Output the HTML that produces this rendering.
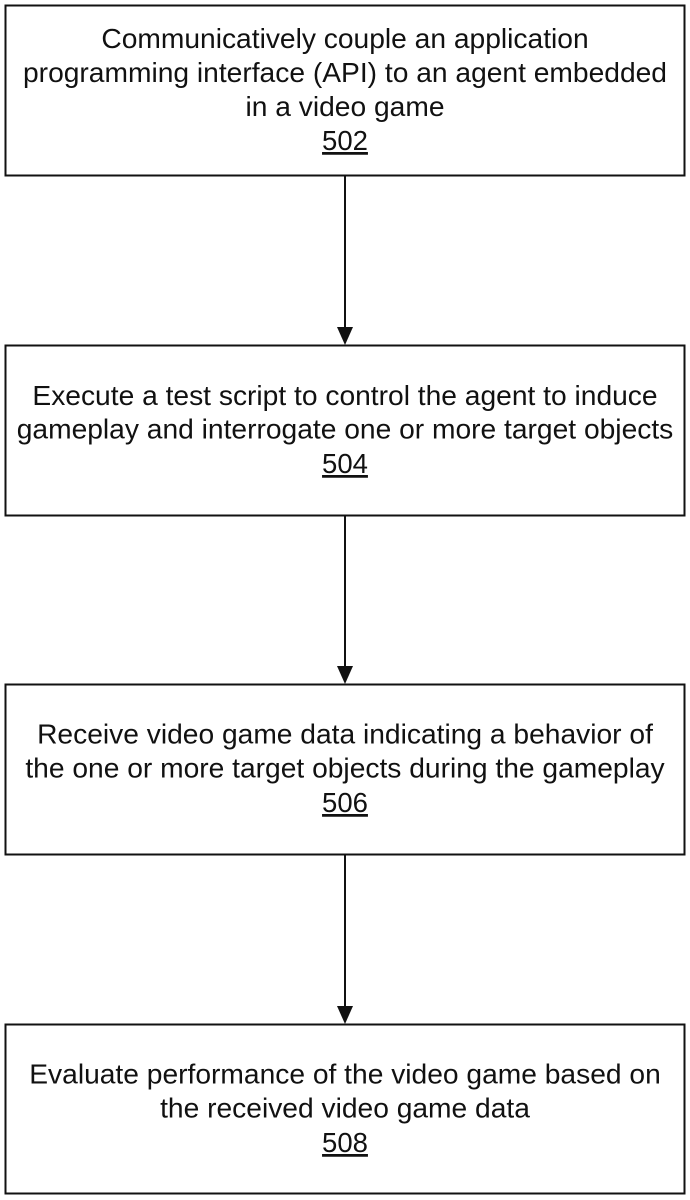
<!DOCTYPE html>
<html>
<head>
<meta charset="utf-8">
<style>
html,body{margin:0;padding:0;background:#fff;}
body{width:690px;height:1200px;overflow:hidden;position:relative;}
svg{position:absolute;left:0;top:0;}
text{font-family:"Liberation Sans",Arial,sans-serif;font-size:28.2px;fill:#111;text-anchor:middle;}
text.n{font-size:27.5px;}
rect{fill:#fff;stroke:#111;stroke-width:2;}
line{stroke:#111;stroke-width:2;}
polygon{fill:#111;}
</style>
</head>
<body>
<svg width="690" height="1200" viewBox="0 0 690 1200">
<rect x="5.5" y="5.5" width="679" height="170"/>
<text x="345" y="48">Communicatively couple an application</text>
<text x="345" y="82">programming interface (API) to an agent embedded</text>
<text x="345" y="116">in a video game</text>
<text class="n" x="345" y="150" text-decoration="underline">502</text>

<line x1="345" y1="176" x2="345" y2="330"/>
<polygon points="337,327 353,327 345,345"/>

<rect x="5.5" y="345.5" width="679" height="170"/>
<text x="345" y="405">Execute a test script to control the agent to induce</text>
<text x="345" y="438.5">gameplay and interrogate one or more target objects</text>
<text class="n" x="345" y="473" text-decoration="underline">504</text>

<line x1="345" y1="516" x2="345" y2="670"/>
<polygon points="337,666 353,666 345,684"/>

<rect x="5.5" y="684.5" width="679" height="170"/>
<text x="345" y="743.5">Receive video game data indicating a behavior of</text>
<text x="345" y="777.5">the one or more target objects during the gameplay</text>
<text class="n" x="345" y="812" text-decoration="underline">506</text>

<line x1="345" y1="855" x2="345" y2="1009"/>
<polygon points="337,1006 353,1006 345,1024"/>

<rect x="5.5" y="1024.5" width="679" height="169"/>
<text x="345" y="1083.5">Evaluate performance of the video game based on</text>
<text x="345" y="1117.5">the received video game data</text>
<text class="n" x="345" y="1152" text-decoration="underline">508</text>
</svg>
</body>
</html>
